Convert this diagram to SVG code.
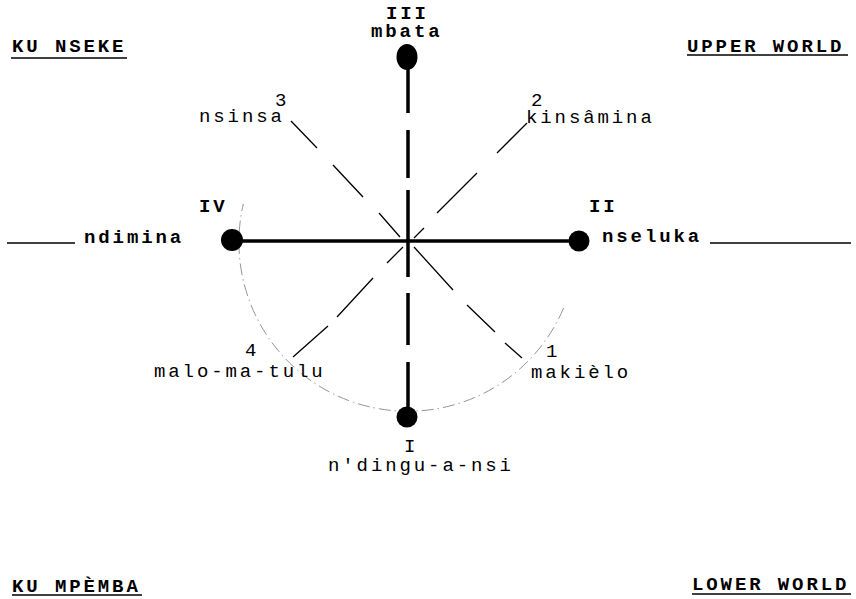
<svg xmlns="http://www.w3.org/2000/svg" width="856" height="599" viewBox="0 0 856 599">
<style>
text{font-family:"Liberation Mono","Courier New",monospace;font-size:19px;letter-spacing:2.9px;fill:#000}
.b{font-weight:bold}
.heavy{stroke:#000;stroke-width:3.5;fill:none}
.thin{stroke:#000;stroke-width:1.3;fill:none}
.ul{stroke:#000;stroke-width:1.6}
.dot{fill:#000}
.arc{stroke:#888;stroke-width:0.9;fill:none;stroke-dasharray:12 4 1.5 4}
</style>
<rect width="856" height="599" fill="#fff"/>
<g id="headings">
<text class="b" x="12" y="52">KU NSEKE</text>
<line class="ul" x1="11" y1="58" x2="127" y2="58"/>
<text class="b" x="687" y="52">UPPER WORLD</text>
<line class="ul" x1="687" y1="55" x2="848" y2="55"/>
<text class="b" x="12" y="592">KU MPÈMBA</text>
<line class="ul" x1="12" y1="595" x2="142" y2="595"/>
<text class="b" x="692" y="590">LOWER WORLD</text>
<line class="ul" x1="692" y1="594" x2="851" y2="594"/>
</g>
<g id="connectors">
<path class="arc" d="M563.6 308 A169 169 0 0 1 243.3 204"/>
<path class="heavy" d="M408 60 V113 M408 130 V178 M408 190 V277 M408 293 V345 M408 362 V415"/>
<line class="heavy" x1="232" y1="241" x2="580" y2="241"/>
<path class="thin" d="M291 121 L317 148 M333 165 L363 197 M379 213 L400 237"/>
<path class="thin" d="M527 123 L497 153 M477 173 L437 213 M424 228 L414 238"/>
<path class="thin" d="M403 247 L387 263 M373 278 L337 317 M328 326 L293 357"/>
<path class="thin" d="M414 247 L453 290 M467 305 L495 332 M505 343 L522 358"/>
<line class="thin" x1="7" y1="243" x2="75" y2="243"/>
<line class="thin" x1="710" y1="243" x2="851" y2="243"/>
</g>
<g id="node-III">
<ellipse class="dot" cx="407" cy="57" rx="10.5" ry="13"/>
<text class="b" x="386" y="19">III</text>
<text class="b" x="371" y="37">mbata</text>
</g>
<g id="node-IV">
<circle class="dot" cx="232" cy="240" r="11"/>
<text class="b" x="199" y="212">IV</text>
<text class="b" x="84" y="243">ndimina</text>
</g>
<g id="node-II">
<circle class="dot" cx="579" cy="241" r="10.5"/>
<text class="b" x="589" y="212">II</text>
<text class="b" x="602" y="242">nseluka</text>
</g>
<g id="node-I">
<circle class="dot" cx="407" cy="417" r="10.5"/>
<text x="404" y="452">I</text>
<text x="328" y="471">n'dingu-a-nsi</text>
</g>
<g id="label-3">
<text x="275" y="106">3</text>
<text x="199" y="122">nsinsa</text>
</g>
<g id="label-2">
<text x="531" y="106">2</text>
<text x="526" y="123">kinsâmina</text>
</g>
<g id="label-4">
<text x="245" y="356">4</text>
<text x="154" y="377">malo-ma-tulu</text>
</g>
<g id="label-1">
<text x="546" y="357">1</text>
<text x="531" y="378">makièlo</text>
</g>
</svg>
